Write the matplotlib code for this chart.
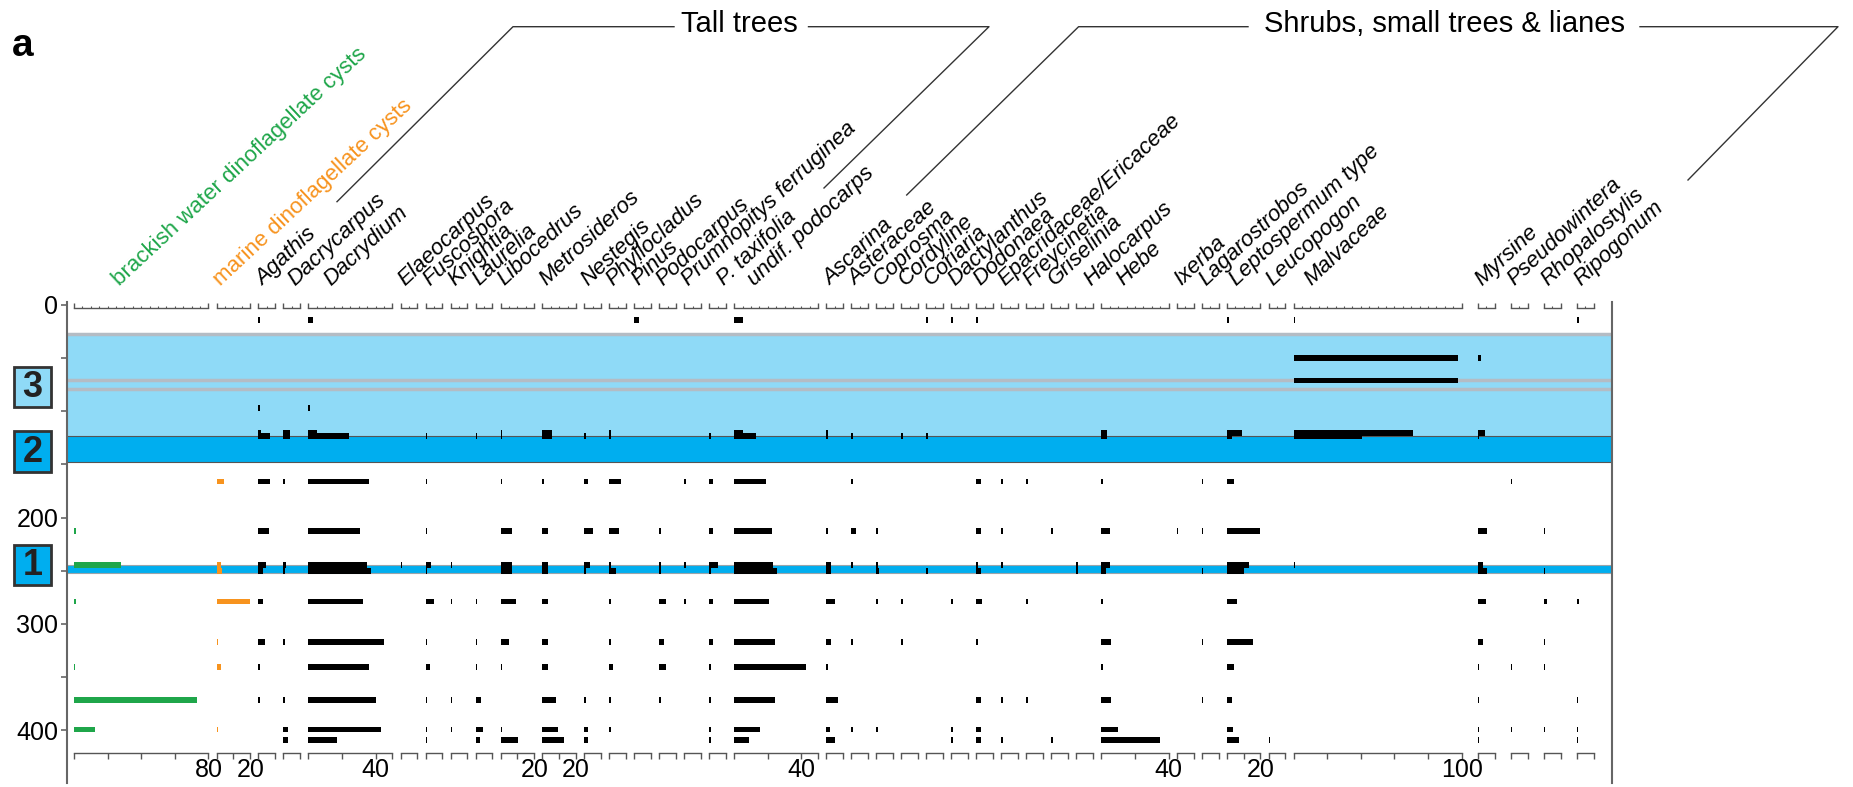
import matplotlib
matplotlib.use("Agg")
import matplotlib.pyplot as plt
from matplotlib.patches import Rectangle

plt.rcParams['font.family'] = ['Liberation Sans', 'DejaVu Sans']

W, H = 1853, 787

# sample depths (cm)
depths = [14, 50, 71, 97, 120.5, 123.5, 166, 213, 245, 250.5, 279, 317, 341, 372, 399.5, 409.5]

# percentages per taxon, one value per sample depth above
brackish = [0, 0, 0, 0, 0, 0, 0, 1, 28, 0, 1, 0, 0.8, 73, 12.5, 0]
marine = [0, 0, 0, 0, 0, 0, 4.5, 0, 2.4, 3.5, 20, 0.8, 2.5, 0, 1, 0]
agathis = [1, 0, 0, 1, 1.5, 7, 7, 6.5, 4.5, 3, 2.5, 4, 0.8, 0.8, 0, 0]
dacrycarpus = [0, 0, 0, 0, 4, 4, 1, 0, 1.5, 1, 0, 1, 0, 1, 3, 3]
dacrydium = [2.7, 0, 0, 1, 5, 24, 36, 31, 35, 37, 32.5, 45, 36, 40, 43, 17]
elaeocarpus = [0, 0, 0, 0, 0, 0, 0, 0, 0.8, 0, 0, 0, 0, 0, 0, 0]
fuscospora = [0, 0, 0, 0, 0, 1, 1, 0.8, 3.5, 1, 5, 1, 2.5, 1, 1, 0.8]
knightia = [0, 0, 0, 0, 0, 0, 0, 0, 1, 0, 1, 0, 0, 0.8, 0.8, 0]
laurelia = [0, 0, 0, 0, 0, 1, 0, 0, 0, 0, 0.8, 0.8, 1, 3.5, 4.5, 2.5]
libocedrus = [0, 0, 0, 0, 1, 1, 1, 6.5, 6.5, 6.5, 9, 5, 1, 0, 0.8, 10.5]
metrosideros = [0, 0, 0, 0, 6, 6, 1, 3.5, 3.5, 3.5, 3.5, 3.5, 3.5, 8, 9, 13]
nestegis = [0, 0, 0, 0, 0, 1, 2, 5, 3.5, 1, 0, 0, 0, 1, 2.5, 2]
phyllocladus = [0, 0, 0, 0, 1, 1, 7, 6, 0.8, 4, 1, 1, 2.5, 1, 1, 0]
pinus = [3, 0, 0, 0, 0, 0, 0, 0, 0, 0, 0, 0, 0, 0, 0, 0]
podocarpus = [0, 0, 0, 0, 0, 0, 0, 0.8, 1, 1, 4, 3, 4, 1, 0, 0]
prumnopitys = [0, 0, 0, 0, 0, 0, 1, 0, 0.8, 0, 1, 0, 0, 0, 0, 0]
p_taxifolia = [0, 0, 0, 0, 0, 1, 2.5, 2.5, 5, 1, 2.5, 2, 1, 0.8, 1, 0.8]
undif_podocarps = [5, 0, 0, 0, 5, 13, 19, 22.5, 23, 25.5, 21, 24, 43, 24, 15.5, 9]
ascarina = [0, 0, 0, 0, 1, 1, 0, 1, 2.5, 3, 5, 3, 1, 7, 2, 5]
asteraceae = [0, 0, 0, 0, 0, 1, 1, 2.5, 1, 0, 0, 0.8, 0, 0, 0.8, 0]
coprosma = [0, 0, 0, 0, 0, 0, 0, 1, 1, 1.5, 1, 0, 0, 0, 1, 0]
cordyline = [0, 0, 0, 0, 0, 0.8, 0, 0, 0, 0, 0.8, 0.8, 0, 0, 0, 0]
coriaria = [1, 0, 0, 0, 0, 1, 0, 0, 0, 0.8, 0, 0, 0, 0, 0, 0]
dactylanthus = [1, 0, 0, 0, 0, 0, 0, 0, 0, 0, 1, 0, 0, 0, 0.8, 0.8]
dodonaea = [1, 0, 0, 0, 0, 0, 2.5, 2.5, 1, 2.5, 3.5, 1, 0, 2.5, 2.5, 2.5]
epacridaceae = [0, 0, 0, 0, 0, 0, 1, 0.8, 0.8, 0, 0, 0, 0, 0.8, 0, 0.8]
freycinetia = [0, 0, 0, 0, 0, 0, 0.8, 0, 0, 0, 1, 0, 0, 1, 0, 0]
griselinia = [0, 0, 0, 0, 0, 0, 0, 0.8, 0, 0, 0, 0, 0, 0, 0, 0.8]
halocarpus = [0, 0, 0, 0, 0, 0, 0, 0, 0.8, 0.8, 0, 0, 0, 0, 0, 0]
hebe = [0, 0, 0, 0, 3.5, 3.5, 1, 5, 5, 2.5, 1, 6, 1, 6, 10, 35]
ixerba = [0, 0, 0, 0, 0, 0, 0, 0.8, 0, 0, 0, 0, 0, 0, 0, 0]
lagarostrobos = [0, 0, 0, 0, 0, 0, 0.8, 0.8, 0, 0.8, 0, 0.8, 0, 0.8, 0, 0]
leptospermum = [1.5, 0, 0, 0, 9, 3, 4.5, 20, 13, 10, 6, 15.5, 4, 3, 3.5, 7.5]
leucopogon = [0, 0, 0, 0, 0, 0, 0, 0, 0, 0, 0, 0, 0, 0, 0, 0.8]
malvaceae = [1, 98, 98, 0, 71, 41, 0, 0, 0.8, 0, 0, 0, 0, 0, 0, 0]
myrsine = [0, 2, 0, 0, 4.5, 1, 0, 5.7, 3, 5.7, 5, 3, 1, 0.8, 1, 1]
pseudowintera = [0, 0, 0, 0, 0, 0, 1, 0, 0, 0, 0, 0, 1, 0, 0.8, 0]
rhopalostylis = [0, 0, 0, 0, 0, 0, 0, 1, 0, 1, 2, 1, 1, 0, 1, 0]
ripogonum = [1.5, 0, 0, 0, 0, 0, 0, 0, 0, 0, 1.5, 0, 0, 1, 1, 1]

taxa = ["brackish water dinoflagellate cysts", "marine dinoflagellate cysts",
        "Agathis", "Dacrycarpus", "Dacrydium", "Elaeocarpus", "Fuscospora", "Knightia",
        "Laurelia", "Libocedrus", "Metrosideros", "Nestegis", "Phyllocladus", "Pinus",
        "Podocarpus", "Prumnopitys ferruginea", "P. taxifolia", "undif. podocarps",
        "Ascarina", "Asteraceae", "Coprosma", "Cordyline", "Coriaria", "Dactylanthus",
        "Dodonaea", "Epacridaceae/Ericaceae", "Freycinetia", "Griselinia", "Halocarpus",
        "Hebe", "Ixerba", "Lagarostrobos", "Leptospermum type", "Leucopogon", "Malvaceae",
        "Myrsine", "Pseudowintera", "Rhopalostylis", "Ripogonum"]
series = [brackish, marine, agathis, dacrycarpus, dacrydium, elaeocarpus, fuscospora,
          knightia, laurelia, libocedrus, metrosideros, nestegis, phyllocladus, pinus,
          podocarpus, prumnopitys, p_taxifolia, undif_podocarps, ascarina, asteraceae,
          coprosma, cordyline, coriaria, dactylanthus, dodonaea, epacridaceae, freycinetia,
          griselinia, halocarpus, hebe, ixerba, lagarostrobos, leptospermum, leucopogon,
          malvaceae, myrsine, pseudowintera, rhopalostylis, ripogonum]
# x-scale maximum (%) for each taxon panel
scale_max = [80, 20, 10, 10, 50, 10, 10, 10, 10, 20, 20, 10, 10, 10, 10, 10, 10, 50,
             10, 10, 10, 10, 10, 10, 10, 10, 10, 10, 10, 40, 10, 10, 20, 10, 100,
             10, 10, 10, 10]
# numbers printed under the bottom scales
bottom_labels = {0: 80, 1: 20, 4: 40, 9: 20, 10: 20, 17: 40, 29: 40, 32: 20, 34: 100}

zones = [(27.6, 123, '#8FDAF7'), (123, 148, '#00AEEF'), (244.7, 252, '#00AEEF')]
zone_names = [("3", 58, 95.7, '#8FDAF7'), ("2", 119, 157, '#00AEEF'), ("1", 226, 263.5, '#00AEEF')]

GREEN = '#1FA64A'
ORANGE = '#F7931E'
bar_colors = [GREEN, ORANGE] + ['black'] * (len(taxa) - 2)

# ---- layout (pixels) ----
px_per_pct = 1.68
gap = 8.2
x_start = 74
label_dx = {0: 46, 3: 12, 4: 23, 16: 15, 17: 20, 28: 15, 29: 22, 32: 10, 34: 18}
extra_gap = {35: 8, 36: 8, 37: 8, 38: 8}

ytop_d, ybot_d = -3, 450
def ypx(d):
    return 305 + 1.0625 * d

ax_bottom = (H - ypx(ybot_d)) / H
ax_height = (ypx(ybot_d) - ypx(ytop_d)) / H

fig = plt.figure(figsize=(W / 100, H / 100), dpi=100)

# background axes: zones and depth axis
x_left, x_right = 66.5, 1612
bg = fig.add_axes([x_left / W, ax_bottom, (x_right - x_left) / W, ax_height])
bg.set_xlim(0, 1)
bg.set_ylim(ybot_d, ytop_d)
for z0, z1, c in zones:
    bg.axhspan(z0, z1, color=c, lw=0, zorder=0)
bg.axhline(27.6, color='#B4BCC4', lw=2.5, zorder=1)
bg.axhline(71, color='#B4BCC4', lw=2.5, zorder=1)
bg.axhline(78.6, color='#B4BCC4', lw=2.5, zorder=1)
bg.axhline(123, color='#555555', lw=0.8, zorder=1)
bg.axhline(148, color='#555555', lw=0.8, zorder=1)
bg.axhline(244.7, color='#9AA4AA', lw=0.8, zorder=1)
bg.axhline(252, color='#9AA4AA', lw=0.8, zorder=1)
for s in ['top', 'bottom']:
    bg.spines[s].set_visible(False)
for s in ['left', 'right']:
    bg.spines[s].set_color('#666666')
    bg.spines[s].set_linewidth(1.5)
bg.set_xticks([])
bg.set_yticks(range(0, 401, 50))
bg.set_yticklabels(['0', '', '', '', '200', '', '300', '', '400'])
bg.tick_params(axis='y', direction='out', length=4, width=1.2, color='#666666',
               labelsize=18, pad=2)

# zone boxes
zb = fig.add_axes([14 / W, ax_bottom, 37 / W, ax_height])
zb.set_xlim(0, 1)
zb.set_ylim(ybot_d, ytop_d)
zb.axis('off')
for name, z0, z1, c in zone_names:
    zb.add_patch(Rectangle((0, z0), 1, z1 - z0, facecolor=c, edgecolor='#333333',
                           lw=2, clip_on=False))
    zb.text(0.5, (z0 + z1) / 2 + 0.5, name, ha='center', va='center', fontsize=26,
            fontweight='bold', color='#222222')

# overlay for labels
ov = fig.add_axes([0, 0, 1, 1])
ov.set_xlim(0, W)
ov.set_ylim(H, 0)
ov.axis('off')
ov.patch.set_alpha(0)

x = x_start
for i, (name, vals, smax) in enumerate(zip(taxa, series, scale_max)):
    x += extra_gap.get(i, 0)
    w = smax * px_per_pct
    ax = fig.add_axes([x / W, ax_bottom, w / W, ax_height])
    ax.set_xlim(0, smax)
    ax.set_ylim(ybot_d, ytop_d)
    ax.axis('off')
    ax.patch.set_alpha(0)
    d_use = [d for d, v in zip(depths, vals) if v > 0]
    v_use = [v for v in vals if v > 0]
    ax.barh(d_use, v_use, height=5.3, color=bar_colors[i], lw=0, clip_on=False)

    # top scale
    ax.plot([0, smax], [3, 3], color='#555555', lw=1.0, clip_on=False)
    ax.vlines([0, smax], -2, 3, color='#555555', lw=1.0, clip_on=False)
    minor = [t for t in range(5, smax, 5)]
    ax.vlines(minor, 1.2, 3, color='#555555', lw=0.8, clip_on=False)
    # bottom scale
    step = 10 if smax <= 20 else 20
    ticks = list(range(0, smax + 1, step))
    if ticks[-1] != smax:
        ticks.append(smax)
    ax.plot([0, smax], [421.6, 421.6], color='#555555', lw=1.0, clip_on=False)
    ax.vlines(ticks, 421.6, 427, color='#555555', lw=1.0, clip_on=False)
    if i in bottom_labels:
        ax.text(bottom_labels[i], 438, str(bottom_labels[i]), ha='center', va='center',
                fontsize=18, clip_on=False)

    # taxon name
    if i == 0:
        col, st = GREEN, 'normal'
    elif i == 1:
        col, st = ORANGE, 'normal'
    else:
        col, st = 'black', 'italic'
    ov.text(x + label_dx.get(i, 4), 286, name, rotation=43, rotation_mode='anchor',
            ha='left', va='baseline', fontsize=16, style=st, color=col)
    x += w + gap

# group brackets
lc = dict(color='#333333', lw=1.0)
ov.plot([337, 513, 674], [201.7, 26.7, 26.7], **lc)
ov.plot([808.5, 989, 824], [26.7, 26.7, 188], **lc)
ov.plot([906.7, 1078.6, 1248], [195, 26.7, 26.7], **lc)
ov.plot([1640, 1838, 1688], [26.7, 26.7, 180], **lc)
ov.text(739, 24, "Tall trees", ha='center', va='center', fontsize=21)
ov.text(1445, 24, "Shrubs, small trees & lianes", ha='center', va='center', fontsize=21)
ov.text(12, 56, "a", ha='left', va='baseline', fontsize=28, fontweight='bold')

fig.savefig("out.png", dpi=100)
